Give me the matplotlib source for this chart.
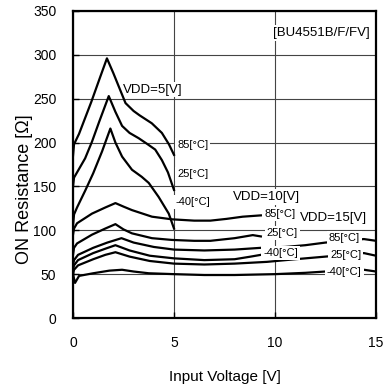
import matplotlib
matplotlib.use("Agg")
import matplotlib.pyplot as plt

plt.rcParams['font.family'] = ['Liberation Sans', 'DejaVu Sans']

# ---- data ----
v5_85_x = [0, 0.05, 0.3, 0.9, 1.35, 1.68, 2.0, 2.3, 2.6, 3.0, 3.3, 3.9, 4.4, 4.75, 5.0]
v5_85_y = [185, 198, 210, 246, 275, 296, 279, 262, 245, 236, 231, 222, 211, 198, 186]

v5_25_x = [0, 0.05, 0.2, 0.6, 0.94, 1.3, 1.77, 2.1, 2.43, 2.8, 3.25, 3.7, 4.07, 4.4, 4.7, 5.0]
v5_25_y = [150, 160, 166, 182, 201, 224, 253, 235, 219, 211, 205, 198, 192, 180, 166, 146]

v5_m40_x = [0, 0.05, 0.2, 0.6, 1.0, 1.44, 1.85, 2.1, 2.43, 2.92, 3.4, 3.75, 4.24, 4.74, 5.0]
v5_m40_y = [105, 118, 126, 145, 165, 190, 216, 200, 184, 169, 161, 154, 138, 119, 102]

v10_85_x = [0, 0.05, 0.2, 0.94, 1.6, 2.1, 2.5, 2.92, 3.91, 4.9, 6.0, 6.8, 7.6, 8.4, 9.3]
v10_85_y = [95, 102, 108, 119, 126, 131, 127, 123, 115.5, 112.5, 111, 111, 113, 115.5, 117]

v10_25_x = [0, 0.05, 0.2, 0.94, 1.6, 2.1, 2.5, 2.92, 3.91, 4.9, 6.0, 6.8, 8.0, 8.9, 9.3]
v10_25_y = [72, 80, 85, 95, 102, 107, 101, 96.5, 91, 89, 88, 88, 91, 94.5, 93]

v10_m40_x = [0, 0.05, 0.25, 1.0, 1.6, 2.1, 2.8, 3.8, 5.0, 6.5, 8.0, 8.8, 9.3]
v10_m40_y = [55, 60, 66, 74, 79, 83, 77, 71, 68, 66, 67, 70, 72]

v15_85_x = [0, 0.05, 0.25, 1.0, 1.7, 2.4, 3.0, 4.0, 5.0, 6.5, 8.0, 9.3, 10.5, 11.5, 12.5, 13.5, 14.4, 15]
v15_85_y = [60, 66, 72, 80, 86, 91, 86, 81, 78, 77, 78, 80, 81, 83, 86, 88, 90, 88]

v15_25_x = [0, 0.05, 0.25, 1.0, 1.6, 2.1, 2.8, 3.8, 5.0, 6.5, 8.0, 9.6, 11, 12.5, 13.5, 14.4, 15]
v15_25_y = [50, 55, 60, 67, 72, 75, 70, 65, 62, 61, 62, 64, 67, 70, 72, 74, 71]

v15_m40_x = [0, 0.03, 0.1, 0.3, 1.0, 1.8, 2.43, 3.0, 3.75, 5.0, 6.5, 8.0, 10.0, 11.5, 12.5, 13.5, 14.4, 15]
v15_m40_y = [52, 47, 40, 48, 51, 54, 55, 53, 51, 50, 49, 49, 50, 51.5, 53, 54, 55, 53]

x_ticks = [0, 5, 10, 15]
y_ticks = [0, 50, 100, 150, 200, 250, 300, 350]

# ---- figure ----
fig = plt.figure(figsize=(3.84, 3.87), dpi=100)
ax = fig.add_axes([73/384, 1 - 318/387, 303/384, 307/387])
ax.set_xlim(0, 15)
ax.set_ylim(0, 350)
ax.set_xticks(x_ticks)
ax.set_yticks(y_ticks)
ax.tick_params(direction='in', length=4, width=1, labelsize=10, colors='black')
ax.tick_params(axis='y', pad=12)
ax.tick_params(axis='x', pad=13)
for s in ax.spines.values():
    s.set_linewidth(1.6)
    s.set_zorder(6)

ax.grid(True, color='#444444', linewidth=0.8, zorder=0)
ax.set_axisbelow(True)

series = [
    (v5_85_x, v5_85_y), (v5_25_x, v5_25_y), (v5_m40_x, v5_m40_y),
    (v10_85_x, v10_85_y), (v10_25_x, v10_25_y), (v10_m40_x, v10_m40_y),
    (v15_85_x, v15_85_y), (v15_25_x, v15_25_y), (v15_m40_x, v15_m40_y),
]
for xs, ys in series:
    ax.plot(xs, ys, color='black', linewidth=1.6, zorder=3, solid_joinstyle='round')

box = dict(facecolor='white', edgecolor='none', pad=1.5)
small = 8
labels = [
    (5.15, 197, '85[°C]', small),
    (5.15, 164, '25[°C]', small),
    (5.05, 132, '-40[°C]', small),
    (9.5, 118.6, '85[°C]', small),
    (9.6, 97, '25[°C]', small),
    (9.41, 74.5, '-40[°C]', small),
    (12.67, 91, '85[°C]', small),
    (12.72, 71.4, '25[°C]', small),
    (12.57, 52.8, '-40[°C]', small),
    (7.92, 138, 'VDD=10[V]', 9.5),
    (11.24, 114, 'VDD=15[V]', 9.5),
    (9.9, 325, '[BU4551B/F/FV]', 9.5),
]
for x, y, t, fs in labels:
    ax.text(x, y, t, fontsize=fs, ha='left', va='center', bbox=box, zorder=4)
ax.text(2.48, 260, 'VDD=5[V]', fontsize=9.5, ha='left', va='center', zorder=2,
        bbox=dict(facecolor='white', edgecolor='none', pad=1))

ax.set_xlabel('Input Voltage [V]', fontsize=11)
ax.set_ylabel('ON Resistance [Ω]', fontsize=13)
ax.xaxis.set_label_coords(0.5, -0.169)
ax.yaxis.set_label_coords(-0.132, 0.42)

fig.savefig('out.png', dpi=100)
